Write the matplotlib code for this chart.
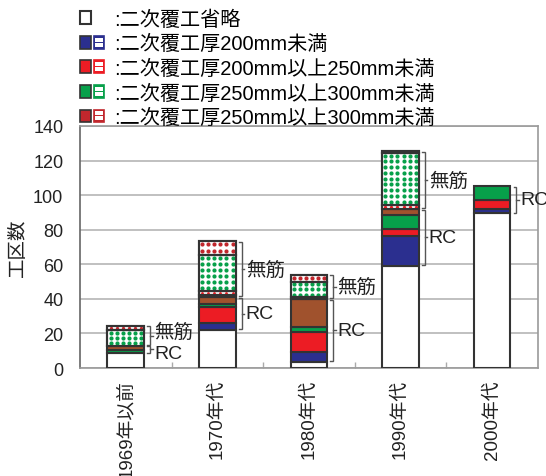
import matplotlib
matplotlib.use("Agg")
import matplotlib.pyplot as plt
import numpy as np
from matplotlib.patches import Patch, Rectangle
from matplotlib.lines import Line2D
from matplotlib.legend_handler import HandlerTuple, HandlerBase

plt.rcParams['font.family'] = ['Liberation Sans', 'Noto Sans CJK JP']

categories = ['1969年以前', '1970年代', '1980年代', '1990年代', '2000年代']

# 二次覆工省略
omitted = [8.5, 22, 3.5, 59, 89.5]
# RC lining, by thickness class
rc_lt200 = [0, 4, 6, 17.5, 2.5]
rc_200_250 = [0, 9, 11.5, 4, 5]
rc_250_300 = [2, 2, 3, 8, 8]
rc_250_300b = [2.5, 4, 16, 3.5, 0]
# plain (無筋) lining, by thickness class
pl_lt200 = [0, 1.5, 0, 0, 0]
pl_200_250 = [0, 2, 1, 2.5, 0]
pl_250_300 = [9, 21, 9, 30, 0]
pl_250_300b = [2.5, 8, 4, 1, 0]

legend_labels = [':二次覆工省略',
                 ':二次覆工厚200mm未満',
                 ':二次覆工厚200mm以上250mm未満',
                 ':二次覆工厚250mm以上300mm未満',
                 ':二次覆工厚250mm以上300mm未満']

C_BLUE = '#2b2f8f'
C_RED = '#ec1c24'
C_GREEN = '#07a04a'
C_BROWN = '#a0522d'
C_DRED = '#c1272d'
EDGE = '#333333'
BW = 0.4
DOT_COLS = 6
DOT_PITCH = 3.4   # vertical dot spacing in y units

fig = plt.figure(figsize=(5.46, 4.77), dpi=100)
ax = fig.add_axes([0.1465, 0.2264, 0.8385, 0.5074])

x = np.arange(len(categories))
bottom = np.zeros(len(categories))


def dot_fill(xc, y0, h, color):
    """Fill one bar segment with a regular grid of dots."""
    rows = max(1, int(round(h / DOT_PITCH)))
    xs = xc - BW / 2 + (np.arange(DOT_COLS) + 0.5) * BW / DOT_COLS
    ys = y0 + (np.arange(rows) + 0.5) * h / rows
    gx, gy = np.meshgrid(xs, ys)
    size = 9 * min(1.0, h / DOT_PITCH) ** 1.5
    ax.scatter(gx.ravel(), gy.ravel(), s=size, color=color,
               linewidths=0, zorder=3.5)


def draw_layer(values, color, dotted=False):
    global bottom
    v = np.asarray(values, dtype=float)
    m = v > 0
    if dotted:
        ax.bar(x[m], v[m], BW, bottom=bottom[m], facecolor='white',
               edgecolor=EDGE, linewidth=1.5, zorder=3)
        for i in x[m]:
            dot_fill(i, bottom[i], v[i], color)
        # redraw the outline above the dots
        ax.bar(x[m], v[m], BW, bottom=bottom[m], facecolor='none',
               edgecolor=EDGE, linewidth=1.5, zorder=4)
    else:
        ax.bar(x[m], v[m], BW, bottom=bottom[m], facecolor=color,
               edgecolor=EDGE, linewidth=1.5, zorder=3)
    bottom = bottom + v


draw_layer(omitted, 'white')
draw_layer(rc_lt200, C_BLUE)
draw_layer(rc_200_250, C_RED)
draw_layer(rc_250_300, C_GREEN)
draw_layer(rc_250_300b, C_BROWN)
rc_top = bottom.copy()
draw_layer(pl_lt200, C_BLUE, dotted=True)
draw_layer(pl_200_250, C_RED, dotted=True)
draw_layer(pl_250_300, C_GREEN, dotted=True)
draw_layer(pl_250_300b, C_DRED, dotted=True)
total = bottom.copy()
om = np.asarray(omitted, dtype=float)


def brace(i, y0, y1):
    xr = i + BW / 2
    xl = xr + 0.035
    xv = xr + 0.065
    ys = [y0 + 0.4, y1 - 0.4]
    ax.plot([xl, xv, xv, xl], [ys[0], ys[0], ys[1], ys[1]], color='#555555',
            lw=1.0, zorder=5, clip_on=False, solid_joinstyle='miter')
    ym = (ys[0] + ys[1]) / 2
    ax.plot([xv, xv + 0.03], [ym, ym], color='#555555', lw=1.0, zorder=5,
            clip_on=False)


for i in range(len(categories)):
    has_plain = total[i] - rc_top[i] > 0
    rc_mid = (om[i] + rc_top[i]) / 2
    brace(i, om[i], rc_top[i])
    if has_plain:
        brace(i, rc_top[i], total[i])
        pl_mid = (rc_top[i] + total[i]) / 2
        gap = pl_mid - rc_mid
        if gap < 13:
            c = (pl_mid + rc_mid) / 2
            pl_mid, rc_mid = c + 6.5, c - 6.5
        ax.text(i + BW / 2 + 0.11, pl_mid, '無筋', fontsize=14,
                va='center', ha='left', color='#222222', zorder=6,
                family=['Noto Sans CJK JP'])
    ax.text(i + BW / 2 + 0.11, rc_mid, 'RC', fontsize=14,
            va='center', ha='left', color='#222222', zorder=6)

ax.set_xlim(-0.5, len(categories) - 0.5)
ax.set_ylim(0, 140)
ax.set_yticks(np.arange(0, 141, 20))
ax.tick_params(axis='y', length=0, pad=12, labelsize=13, colors='#222222')
ax.set_xticks(x)
ax.set_xticklabels(categories, rotation=90, fontsize=13.5, color='#222222')
ax.tick_params(axis='x', which='major', length=0, pad=8)
ax.set_xticks(np.arange(0.5, len(categories) - 1, 1), minor=True)
ax.tick_params(axis='x', which='minor', direction='in', length=4,
               color='#aaaaaa', width=1)
ax.grid(axis='y', color='#b5b5b5', linewidth=1.2, zorder=0)
ax.set_axisbelow(True)
for s in ax.spines.values():
    s.set_color('#9a9a9a')
    s.set_linewidth(1.2)
ax.spines['left'].set_color('#666666')

ax.set_ylabel('工区数', fontsize=14, color='#222222')
ax.yaxis.set_label_coords(-0.115, 0.5)


# legend: solid + dotted swatches per thickness class
class DottedSwatch(Patch):
    pass


class DottedSwatchHandler(HandlerBase):
    def create_artists(self, legend, orig_handle, xdescent, ydescent,
                       width, height, fontsize, trans):
        col = orig_handle.get_edgecolor()
        rect = Rectangle((-xdescent, -ydescent), width, height,
                         facecolor=col, edgecolor=col, linewidth=1.2,
                         transform=trans)
        px = -xdescent + width * np.array([0.3, 0.7, 0.3, 0.7])
        py = -ydescent + height * np.array([0.3, 0.3, 0.7, 0.7])
        holes = Line2D(px, py, linestyle='none', marker='s', markersize=2.3,
                       markerfacecolor='white', markeredgewidth=0,
                       transform=trans)
        return [rect, holes]


blank = Patch(facecolor='none', edgecolor='none')
handles = [(Patch(facecolor='white', edgecolor=EDGE, linewidth=1.5), blank)]
for col in [C_BLUE, C_RED, C_GREEN, C_DRED]:
    handles.append((Patch(facecolor=col, edgecolor=EDGE, linewidth=1.2),
                    DottedSwatch(facecolor='white', edgecolor=col)))
fig.legend(handles, legend_labels, loc='upper left',
           bbox_to_anchor=(0.147, 0.978), frameon=False, borderaxespad=0,
           borderpad=0, fontsize=14.5, handlelength=1.2, handleheight=0.6,
           handletextpad=0.5, labelspacing=0.27,
           handler_map={tuple: HandlerTuple(ndivide=None, pad=0.15),
                        DottedSwatch: DottedSwatchHandler()})

fig.savefig('out.png', dpi=100)
